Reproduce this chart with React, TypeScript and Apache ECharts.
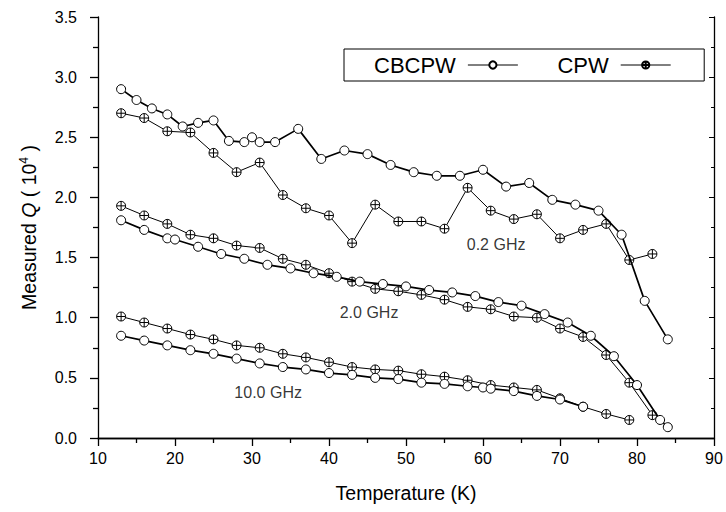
import React, { useEffect, useRef } from "react";
import * as echarts from "echarts";

// Temperature (K) and measured Q (x10^4)
const cb02T = [13, 15, 17, 19, 21, 23, 25, 27, 29, 30, 31, 33, 36, 39, 42, 45, 48, 51, 54, 57, 60, 63, 66, 69, 72, 75, 78, 81, 84];
const cb02Q = [2.9, 2.81, 2.74, 2.69, 2.59, 2.62, 2.64, 2.47, 2.46, 2.5, 2.46, 2.46, 2.57, 2.32, 2.39, 2.36, 2.27, 2.21, 2.18, 2.18, 2.23, 2.09, 2.12, 1.98, 1.94, 1.89, 1.69, 1.14, 0.82];

const cpw02T = [13, 16, 19, 22, 25, 28, 31, 34, 37, 40, 43, 46, 49, 52, 55, 58, 61, 64, 67, 70, 73, 76, 79, 82];
const cpw02Q = [2.7, 2.66, 2.55, 2.54, 2.37, 2.21, 2.29, 2.02, 1.91, 1.85, 1.62, 1.94, 1.8, 1.8, 1.74, 2.08, 1.89, 1.82, 1.86, 1.66, 1.73, 1.78, 1.48, 1.53];

const cb20T = [13, 16, 19, 20, 23, 26, 29, 32, 35, 38, 41, 44, 47, 50, 53, 56, 59, 62, 65, 68, 71, 74, 77, 80, 83, 84];
const cb20Q = [1.81, 1.73, 1.66, 1.65, 1.59, 1.53, 1.49, 1.44, 1.41, 1.37, 1.34, 1.3, 1.28, 1.26, 1.23, 1.21, 1.18, 1.13, 1.1, 1.03, 0.96, 0.85, 0.68, 0.44, 0.15, 0.09];

const cpw20T = [13, 16, 19, 22, 25, 28, 31, 34, 37, 40, 43, 46, 49, 52, 55, 58, 61, 64, 67, 70, 73, 76, 79, 82];
const cpw20Q = [1.93, 1.85, 1.78, 1.69, 1.66, 1.6, 1.58, 1.49, 1.44, 1.37, 1.3, 1.24, 1.22, 1.19, 1.15, 1.09, 1.07, 1.01, 1.0, 0.91, 0.84, 0.69, 0.46, 0.19];

const cb100T = [13, 16, 19, 22, 25, 28, 31, 34, 37, 40, 43, 46, 49, 52, 55, 58, 60, 61, 64, 67, 70, 73];
const cb100Q = [0.85, 0.81, 0.77, 0.73, 0.7, 0.66, 0.62, 0.59, 0.57, 0.54, 0.525, 0.5, 0.49, 0.46, 0.45, 0.43, 0.42, 0.41, 0.39, 0.35, 0.32, 0.26];

const cpw100T = [13, 16, 19, 22, 25, 28, 31, 34, 37, 40, 43, 46, 49, 52, 55, 58, 61, 64, 67, 70, 73, 76, 79];
const cpw100Q = [1.01, 0.96, 0.91, 0.86, 0.82, 0.77, 0.75, 0.7, 0.67, 0.63, 0.59, 0.57, 0.56, 0.53, 0.51, 0.48, 0.44, 0.42, 0.4, 0.33, 0.26, 0.2, 0.15];

const freqLabels = ["0.2 GHz", "2.0 GHz", "10.0 GHz"];
const freqLabelPos = [
  [61.7, 1.61],
  [45.2, 1.04],
  [32.1, 0.38],
];

const FONT = "'Liberation Sans', Arial, Helvetica, sans-serif";
const CROSS_CIRCLE =
  "path://M0,-10 A10,10 0 1,1 0,10 A10,10 0 1,1 0,-10 Z M-10,0 L10,0 M0,-10 L0,10";

const zip = (t: number[], q: number[]) => t.map((v, i) => [v, q[i]]);

function cbSeries(t: number[], q: number[]) {
  return {
    name: "CBCPW",
    type: "line",
    data: zip(t, q),
    symbol: "circle",
    symbolSize: 9,
    lineStyle: { color: "#000", width: 1.7 },
    itemStyle: { color: "#fff", borderColor: "#000", borderWidth: 1 },
    z: 3,
  };
}
function cpwSeries(t: number[], q: number[]) {
  return {
    name: "CPW",
    type: "line",
    data: zip(t, q),
    symbol: CROSS_CIRCLE,
    symbolSize: 9,
    lineStyle: { color: "#000", width: 1 },
    itemStyle: { color: "#fff", borderColor: "#000", borderWidth: 1 },
    z: 2,
  };
}

export default function App() {
  const ref = useRef<HTMLDivElement>(null);
  useEffect(() => {
    if (!ref.current) return;
    const chart = echarts.init(ref.current, null, { renderer: "svg" });
    const axisLine = { show: true, lineStyle: { color: "#000", width: 1.3 } };
    chart.setOption({
      animation: false,
      backgroundColor: "#fff",
      textStyle: { fontFamily: FONT },
      grid: { left: 98, right: 12, top: 17, bottom: 74 },
      legend: {
        data: ["CBCPW", "CPW"],
        left: 344,
        top: 49,
        align: "right",
        orient: "horizontal",
        itemWidth: 50,
        itemHeight: 9,
        itemGap: 39,
        padding: [5, 33, 5, 30],
        borderColor: "#000",
        borderWidth: 1,
        borderRadius: 0,
        selectedMode: false,
        lineStyle: { width: 1, color: "#000" },
        textStyle: { fontSize: 22, color: "#000", fontFamily: FONT, padding: [0, 7, 0, 0] },
      },
      xAxis: [
        {
          type: "value",
          min: 10,
          max: 90,
          interval: 10,
          name: "Temperature (K)",
          nameLocation: "middle",
          nameGap: 45,
          nameTextStyle: { fontSize: 19.5, color: "#000", fontFamily: FONT },
          axisLine,
          axisTick: { show: true, inside: false, length: 8, lineStyle: { color: "#000", width: 1.3 } },
          minorTick: { show: true, splitNumber: 2, length: 5, lineStyle: { color: "#000", width: 1.3 } },
          splitLine: { show: false },
          axisLabel: { fontSize: 16, color: "#000", margin: 12, fontFamily: FONT },
        },
        {
          type: "value",
          position: "top",
          min: 10,
          max: 90,
          interval: 10,
          axisLine,
          axisTick: { show: true, inside: true, length: 5, lineStyle: { color: "#000" } },
          minorTick: { show: true, splitNumber: 2, length: 3, lineStyle: { color: "#000" } },
          splitLine: { show: false },
          axisLabel: { show: false },
        },
      ],
      yAxis: [
        {
          type: "value",
          min: 0,
          max: 3.5,
          interval: 0.5,
          name: "Measured {i|Q} ( 10{sup|4} )",
          nameLocation: "middle",
          nameRotate: 90,
          nameGap: 58,
          nameTextStyle: {
            fontSize: 19.5,
            color: "#000",
            fontFamily: FONT,
            rich: {
              i: { fontSize: 19.5, fontStyle: "italic", fontFamily: FONT, color: "#000" },
              sup: { fontSize: 12, fontFamily: FONT, color: "#000", padding: [0, 0, 10, 0] },
            },
          },
          axisLine,
          axisTick: { show: true, inside: false, length: 8, lineStyle: { color: "#000", width: 1.3 } },
          minorTick: { show: true, splitNumber: 2, length: 5, lineStyle: { color: "#000", width: 1.3 } },
          splitLine: { show: false },
          axisLabel: {
            fontSize: 16,
            color: "#000",
            margin: 21,
            fontFamily: FONT,
            formatter: (v: number) => v.toFixed(1),
          },
        },
        {
          type: "value",
          position: "right",
          min: 0,
          max: 3.5,
          interval: 0.5,
          axisLine,
          axisTick: { show: true, inside: true, length: 5, lineStyle: { color: "#000" } },
          minorTick: { show: true, splitNumber: 2, length: 3, lineStyle: { color: "#000" } },
          splitLine: { show: false },
          axisLabel: { show: false },
        },
      ],
      series: [
        cpwSeries(cpw02T, cpw02Q),
        cbSeries(cb02T, cb02Q),
        cpwSeries(cpw20T, cpw20Q),
        cbSeries(cb20T, cb20Q),
        cpwSeries(cpw100T, cpw100Q),
        cbSeries(cb100T, cb100Q),
        {
          name: "labels",
          type: "scatter",
          symbolSize: 0,
          silent: true,
          data: freqLabels.map((l, i) => ({ value: freqLabelPos[i], name: l })),
          label: {
            show: true,
            position: "inside",
            formatter: (p: any) => p.name,
            fontSize: 16,
            color: "#000",
            fontFamily: FONT,
          },
          z: 5,
        },
      ],
    });
    return () => chart.dispose();
  }, []);
  return (
    <div
      ref={ref}
      style={{ position: "fixed", left: 0, top: 0, width: 726, height: 512, background: "#fff" }}
    />
  );
}
